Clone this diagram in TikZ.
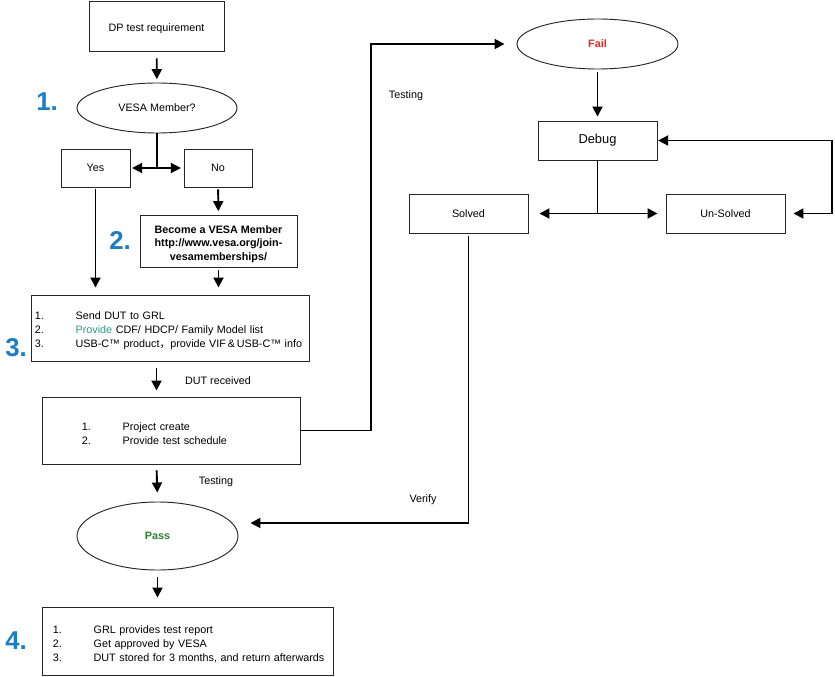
\documentclass[tikz,border=0pt]{standalone}
\usepackage{fontspec}
\setmainfont{Liberation Sans}
\newfontfamily\cjk{Noto Sans CJK SC}
\usepackage{xcolor}
\usetikzlibrary{arrows.meta,shapes.geometric}
\definecolor{stepblue}{HTML}{1B7DC3}
\definecolor{provgreen}{HTML}{2A9A8A}
\definecolor{passgreen}{HTML}{2E7D32}
\definecolor{failred}{HTML}{E8251E}
\newcommand{\lrow}[2]{\mbox{\makebox[1.22cm][l]{#1}#2}}
\newcommand{\lgap}{\rule{0pt}{11.8pt}}

\begin{document}
\begin{tikzpicture}[
  x=0.03cm, y=-0.03cm,
  every node/.style={font=\fontsize{9.2}{12}\selectfont},
  box/.style={rectangle, draw=black!85, line width=0.8pt, inner sep=0pt, align=center},
  oval/.style={ellipse, draw=black!85, line width=0.8pt, inner sep=0pt},
  lst/.style={box, align=left, inner ysep=0pt},
  arr/.style={-{Triangle[length=3mm,width=3mm]}, line width=1.6pt, shorten >=0.1cm},
  dbl/.style={{Triangle[length=3mm,width=3mm]}-{Triangle[length=3mm,width=3mm]}, line width=1.6pt},
  lnk/.style={line width=1.6pt},
  stepno/.style={font=\fontsize{22}{22}\selectfont\bfseries, text=stepblue}
]
\useasboundingbox (0,0) rectangle (835,677);

% left column
\node[box, minimum width=4.05cm, minimum height=1.5cm] (dp) at (156.5,26) {\lgap DP test requirement};
\node[oval, minimum width=4.8cm, minimum height=1.5cm] (vesa) at (157,108) {VESA Member?};
\node[box, minimum width=2.07cm, minimum height=1.14cm] (yes) at (95.5,168) {Yes};
\node[box, minimum width=2.04cm, minimum height=1.14cm] (no) at (218,168) {No};
\node[box, minimum width=4.71cm, minimum height=1.56cm,
      font=\fontsize{9.2}{11.6}\selectfont\bfseries] (join) at (218.5,241)
  {\lgap Become a VESA Member\\http://www.vesa.org/join-\\vesamemberships/};
\node[lst, minimum height=1.98cm, text width=8.1cm, inner xsep=0.12cm] (send) at (170,328)
  {\lgap\lrow{1.}{Send DUT to GRL}\\
   \lrow{2.}{\textcolor{provgreen}{Provide} CDF/ HDCP/ Family Model list}\\
   \lrow{3.}{USB-C™ product{\cjk ，}provide VIF\,\&\,USB-C™ info}};
\node[lst, minimum height=2.01cm, text width=5.34cm, inner xsep=1.2cm] (proj) at (171,430.5)
  {\lgap\lrow{1.}{Project create}\\
   \lrow{2.}{Provide test schedule}};
\node[oval, minimum width=4.83cm, minimum height=2.04cm,
      font=\fontsize{9.2}{12}\selectfont\bfseries, text=passgreen] (pass) at (157.5,536) {Pass};
\node[lst, minimum height=2.04cm, text width=8.07cm, inner xsep=0.33cm] (fin) at (187.5,641)
  {\lgap\lrow{1.}{GRL provides test report}\\
   \lrow{2.}{Get approved by VESA}\\
   \lrow{3.}{DUT stored for 3 months, and return afterwards}};

% right column
\node[oval, minimum width=4.83cm, minimum height=1.5cm,
      font=\fontsize{9.2}{12}\selectfont\bfseries, text=failred] (fail) at (597.5,44) {Fail};
\node[box, minimum width=3.57cm, minimum height=1.17cm,
      font=\fontsize{11}{13}\selectfont] (debug) at (597.5,140.5) {Debug};
\node[box, minimum width=3.57cm, minimum height=1.17cm] (solved) at (468.5,213.5) {Solved};
\node[box, minimum width=3.57cm, minimum height=1.17cm] (unsolved) at (725.5,213.5) {Un-Solved};

% step numbers
\node[stepno] (n1) at (47,102) {1.};
\node[stepno] (n2) at (120,241) {2.};
\node[stepno] (n3) at (16,348) {3.};
\node[stepno] (n4) at (16,641) {4.};

% labels
\node (lrecv) at (218,381) {DUT received};
\node (ltest) at (216,482) {Testing};
\node (ltest2) at (406,96) {Testing};
\node (lver) at (423,500) {Verify};

% bends
\coordinate (tbend) at (371,44);
\coordinate (lpbend) at (832,140.5);
\coordinate (vbend) at (468.5,523);

\draw[arr, shorten <=0.21cm] (dp) -- (vesa);
\draw[lnk] (vesa.south) -- (vesa.south |- yes.east) coordinate (ysplit);
\draw[arr, shorten >=0.05cm] (ysplit) -- (yes.east);
\draw[arr, shorten >=0.08cm] (ysplit) -- (no.west);
\draw[arr, shorten <=0.06cm] (no) -- (join);
\draw[arr, shorten <=0.06cm, shorten >=0.21cm] (yes.south) -- (yes.south |- send.north);
\draw[arr, shorten <=0.09cm, shorten >=0.21cm] (join.south) -- (join.south |- send.north);
\draw[arr, shorten <=0.21cm, shorten >=0.18cm] (send.south -| dp.south) -- (proj.north -| dp.south);
\draw[arr, shorten <=0.18cm, shorten >=0.27cm] (proj.south -| dp.south) -- (pass.north);
\draw[arr, shorten <=0.21cm, shorten >=0.27cm] (pass.south) -- (pass.south |- fin.north);
\draw[arr, shorten >=0.36cm] (proj.east) -| (tbend) -- (fail.west);
\draw[arr, shorten <=0.09cm, shorten >=0.12cm] (fail) -- (debug);
\draw[lnk] (debug.south) -- (debug.south |- solved.east) coordinate (dsplit);
\draw[arr, shorten >=0.33cm] (dsplit) -- (solved.east);
\draw[arr, shorten >=0.24cm] (dsplit) -- (unsolved.west);
\draw[dbl, shorten <=0.24cm, shorten >=0.02cm] (unsolved.east) -| (lpbend) -- (debug.east);
\draw[arr, shorten <=0.09cm, shorten >=0.36cm] (solved.south) -- (vbend) -- (vbend -| pass.east);
\end{tikzpicture}
\end{document}
